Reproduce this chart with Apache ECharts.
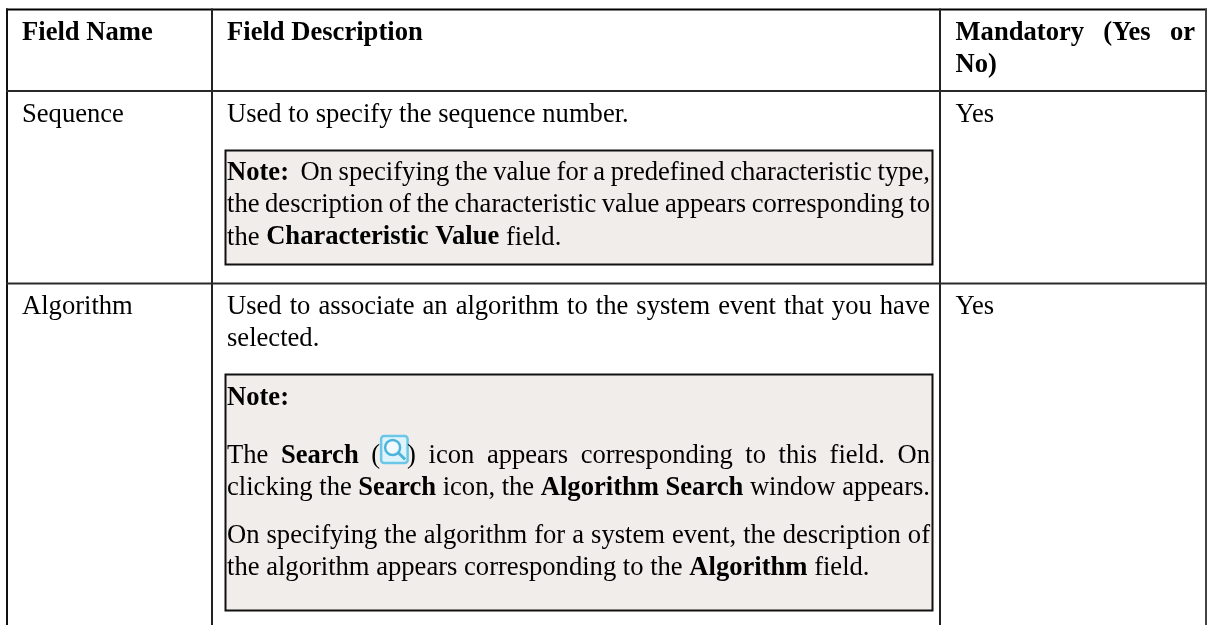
<!DOCTYPE html>
<html>
<head>
<meta charset="utf-8">
<style>
html, body { margin: 0; padding: 0; background: #fff; }
#main { width: 1212px; height: 625px; }
</style>
<script src="https://cdn.jsdelivr.net/npm/echarts@6/dist/echarts.min.js"></script>
</head>
<body>
<div id="main"></div>
<script>
// table text, *word* = bold, @ = the search icon
var headerNames = ['*Field Name*', '*Field Description*', '*Mandatory (Yes or*', '*No)*'];
var rowNames = ['Sequence', 'Algorithm'];
var rowMandatory = ['Yes', 'Yes'];
var sequenceDesc = ['Used to specify the sequence number.'];
var sequenceNote = [
    '*Note:*  On specifying the value for a predefined characteristic type,',
    'the description of the characteristic value appears corresponding to',
    'the *Characteristic Value* field.'
];
var algorithmDesc = [
    'Used to associate an algorithm to the system event that you have',
    'selected.'
];
var algorithmNote = [
    '*Note:*',
    'The *Search* (@) icon appears corresponding to this field. On',
    'clicking the *Search* icon, the *Algorithm Search* window appears.',
    'On specifying the algorithm for a system event, the description of',
    'the algorithm appears corresponding to the *Algorithm* field.'
];

var FONT_SIZE = 26.6;
var FONT_FAMILY = '"Liberation Serif", "Times New Roman", serif';
var ICON_W = 27;
var X_NAME = 22, X_DESC = 227, X_YES = 955.5;
var DESC_END = 930, YES_END = 1195;
var BASE_NUDGE = 1;

var myChart = echarts.init(document.getElementById('main'));
var ctx = document.createElement('canvas').getContext('2d');
var elements = [];

function textWidth(str, bold) {
    ctx.font = (bold ? 'bold ' : '') + FONT_SIZE + 'px ' + FONT_FAMILY;
    return ctx.measureText(str).width;
}

function addText(str, x, baseline, bold) {
    elements.push({
        type: 'text',
        x: x,
        y: baseline - FONT_SIZE * 0.3375 + BASE_NUDGE,
        style: {
            text: str,
            fill: '#000',
            font: (bold ? 'bold ' : '') + FONT_SIZE + 'px ' + FONT_FAMILY,
            align: 'left',
            verticalAlign: 'middle'
        }
    });
}

function addRect(x, y, w, h, fill, stroke, lineWidth) {
    elements.push({
        type: 'rect',
        shape: { x: x, y: y, width: w, height: h },
        style: { fill: fill, stroke: stroke || null, lineWidth: lineWidth || 0 }
    });
}

function addIcon(x, baseline) {
    var top = baseline - 29;
    elements.push({
        type: 'rect',
        shape: { x: x + 1, y: top + 1, width: 26.5, height: 27, r: 3 },
        style: { fill: '#dff3fa', stroke: '#6cc6e6', lineWidth: 2.5 }
    });
    elements.push({
        type: 'line',
        shape: { x1: x + 18, y1: top + 17.5, x2: x + 25, y2: top + 24.5 },
        style: { stroke: '#4db5dc', lineWidth: 3 }
    });
    elements.push({
        type: 'circle',
        shape: { cx: x + 12.5, cy: top + 12.5, r: 7.5 },
        style: { fill: '#f2fafd', stroke: '#4db5dc', lineWidth: 2.5 }
    });
}

// split a marked-up line into words, remembering bold and the icon
function parseLine(str) {
    var tokens = [];
    var bold = false;
    str.split(' ').forEach(function (word) {
        var wasBold = bold;
        if (word.charAt(0) === '*') { bold = true; word = word.substring(1); wasBold = true; }
        if (word.charAt(word.length - 1) === '*') { bold = false; word = word.substring(0, word.length - 1); }
        if (word.indexOf('@') >= 0) {
            var parts = word.split('@');
            tokens.push({ text: parts[0], bold: false });
            tokens.push({ icon: true, glue: true });
            tokens.push({ text: parts[1], bold: false, glue: true });
        } else {
            tokens.push({ text: word, bold: wasBold });
        }
    });
    return tokens;
}

function drawLine(str, x, baseline, endX) {
    var tokens = parseLine(str);
    var used = 0, spaces = 0;
    tokens.forEach(function (t, i) {
        t.width = t.icon ? ICON_W : textWidth(t.text, t.bold);
        used += t.width;
        if (i > 0 && !t.glue) spaces++;
    });
    var natural = textWidth(' ', false);
    var gap = endX ? (endX - x - used) / spaces : natural;
    var pos = x;
    if (!endX) {
        // plain lines stay whole, one text per bold/regular run
        var run = null;
        tokens.forEach(function (t) {
            if (run && run.bold === t.bold) {
                run.text += ' ' + t.text;
            } else {
                if (run) {
                    addText(run.text, pos, baseline, run.bold);
                    pos += textWidth(run.text, run.bold) + natural;
                }
                run = { text: t.text, bold: t.bold };
            }
        });
        addText(run.text, pos, baseline, run.bold);
        return;
    }
    tokens.forEach(function (t, i) {
        if (i > 0 && !t.glue) pos += gap;
        if (t.icon) {
            addIcon(pos, baseline);
        } else if (t.text) {
            addText(t.text, pos, baseline, t.bold);
        }
        pos += t.width;
    });
}

// grid lines
addRect(6, 8.5, 1201, 2, '#000');
addRect(6, 8.5, 2, 616.5, '#111');
addRect(211, 8.5, 2, 616.5, '#222');
addRect(939, 8.5, 2, 616.5, '#222');
addRect(1205, 8.5, 2, 616.5, '#444');
addRect(6, 90, 1201, 2, '#2a2a2a');
addRect(6, 282.5, 1201, 2, '#2a2a2a');

// note boxes
addRect(225.5, 150.5, 707, 114, '#f1edeb', '#111', 2);
addRect(225.5, 374.5, 707, 236, '#f1edeb', '#111', 2);

// header
drawLine(headerNames[0], X_NAME, 41);
drawLine(headerNames[1], X_DESC, 41);
drawLine(headerNames[2], X_YES, 41, YES_END);
drawLine(headerNames[3], X_YES, 73.5);

// sequence row
drawLine(rowNames[0], X_NAME, 122.7);
drawLine(sequenceDesc[0], X_DESC, 122.7);
drawLine(rowMandatory[0], X_YES, 122.7);
drawLine(sequenceNote[0], X_DESC, 181, DESC_END);
drawLine(sequenceNote[1], X_DESC, 213, DESC_END);
drawLine(sequenceNote[2], X_DESC, 245.5);

// algorithm row
drawLine(rowNames[1], X_NAME, 315.3);
drawLine(algorithmDesc[0], X_DESC, 315.3, DESC_END);
drawLine(algorithmDesc[1], X_DESC, 347.3);
drawLine(rowMandatory[1], X_YES, 315.3);
drawLine(algorithmNote[0], X_DESC, 405.7);
drawLine(algorithmNote[1], X_DESC, 464, DESC_END);
drawLine(algorithmNote[2], X_DESC, 495.7, DESC_END);
drawLine(algorithmNote[3], X_DESC, 544.3, DESC_END);
drawLine(algorithmNote[4], X_DESC, 576);

var option = {
    backgroundColor: '#fff',
    animation: false,
    graphic: { elements: elements }
};
myChart.setOption(option);
</script>
</body>
</html>
